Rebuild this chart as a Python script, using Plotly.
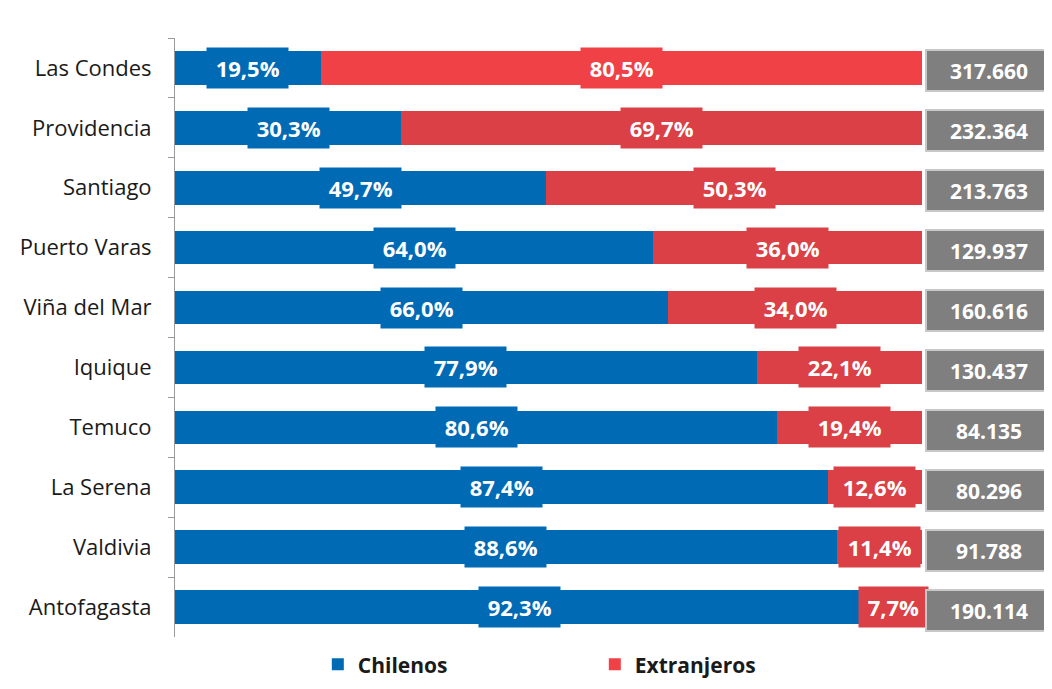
import plotly.graph_objects as go

comunas = ["Las Condes", "Providencia", "Santiago", "Puerto Varas", "Viña del Mar",
           "Iquique", "Temuco", "La Serena", "Valdivia", "Antofagasta"]
chilenos = [19.5, 30.3, 49.7, 64.0, 66.0, 77.9, 80.6, 87.4, 88.6, 92.3]
extranjeros = [80.5, 69.7, 50.3, 36.0, 34.0, 22.1, 19.4, 12.6, 11.4, 7.7]
totales = [317660, 232364, 213763, 129937, 160616, 130437, 84135, 80296, 91788, 190114]

AZUL = "#006AB5"
ROJO = "#DA4045"
ROJO_1 = "#EF4146"
GRIS = "#7F7F7F"
FONT = "Open Sans"


def pct(v):
    # espacio fino a cada lado para ensanchar la caja
    return "\u2009" + f"{v:.1f}".replace(".", ",") + "%\u2009"


def miles(v):
    return f"{v:,}".replace(",", ".")


rojos = [ROJO_1] + [ROJO] * (len(comunas) - 1)

fig = go.Figure()
fig.add_trace(go.Bar(
    y=comunas, x=chilenos, orientation="h", name="Chilenos",
    marker=dict(color=AZUL, line_width=0),
))
fig.add_trace(go.Bar(
    y=comunas, x=extranjeros, orientation="h", name="Extranjeros",
    marker=dict(color=rojos, line_width=0),
))

annotations = []
for c, a, b, t in zip(comunas, chilenos, extranjeros, totales):
    annotations.append(dict(
        x=a / 2, y=c, xref="x", yref="y", text=f"<b>{pct(a)}</b>", showarrow=False,
        font=dict(family=FONT, size=22, color="white"), bgcolor=AZUL, borderpad=5,
    ))
    annotations.append(dict(
        x=a + b / 2, y=c, xref="x", yref="y", text=f"<b>{pct(b)}</b>", showarrow=False,
        font=dict(family=FONT, size=22, color="white"),
        bgcolor=ROJO_1 if c == comunas[0] else ROJO, borderpad=5,
    ))
    annotations.append(dict(
        x=100, y=c, xref="x", yref="y", xanchor="left", xshift=3, yshift=-3,
        text=f"<b>{miles(t)}</b>", showarrow=False,
        font=dict(family=FONT, size=21, color="white"),
        bgcolor=GRIS, bordercolor="#C8C8C8", borderwidth=2,
        width=122, height=37,
    ))

fig.update_layout(
    barmode="stack",
    bargap=0.44,
    width=1052,
    height=689,
    margin=dict(l=167, r=138, t=30, b=60, autoexpand=False),
    plot_bgcolor="white",
    paper_bgcolor="white",
    font=dict(family=FONT, size=22, color="#1A1A1A"),
    annotations=annotations,
    legend=dict(
        orientation="h", traceorder="normal",
        x=0.562, xanchor="center", y=-0.012, yanchor="top",
        font=dict(family=FONT, size=21, color="#1A1A1A", weight="bold"),
        entrywidth=232, itemwidth=30,
    ),
)
fig.update_xaxes(range=[0, 100], visible=False)
fig.update_yaxes(
    autorange="reversed", automargin=False,
    showline=True, linecolor="#9A9A9A", linewidth=1,
    ticks="outside", tickson="boundaries", ticklen=6, tickcolor="#9A9A9A",
    ticklabelstandoff=18, showgrid=False,
)

fig.write_html("out.html")
